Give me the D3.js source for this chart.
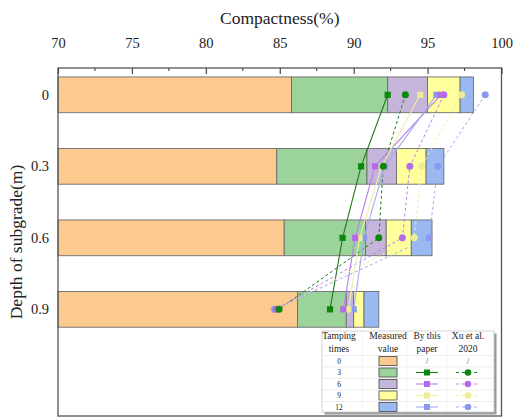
<!DOCTYPE html>
<html><head><meta charset="utf-8">
<script src="https://cdn.jsdelivr.net/npm/d3@7"></script>
<style>body{margin:0;background:#fff}svg{display:block}text{font-family:"Liberation Serif","Times New Roman",serif;fill:#222}</style>
</head><body><svg id="c" width="514" height="417"></svg>
<script>
const depths = [0, 0.3, 0.6, 0.9];
const depthLabels = ["0", "0.3", "0.6", "0.9"];
const tampingTimes = [0, 3, 6, 9, 12];
const xTicks = [70, 75, 80, 85, 90, 95, 100];
// measured compactness (bar segment ends) per tamping times
const measured0 = [85.8, 84.8, 85.3, 86.2];
const measured3 = [92.3, 90.9, 90.8, 89.5];
const measured6 = [95.0, 92.9, 92.2, 90.0];
const measured9 = [97.2, 94.9, 93.9, 90.7];
const measured12 = [98.1, 96.1, 95.3, 91.7];
// By this paper
const paper3 = [92.3, 90.5, 89.25, 88.4];
const paper6 = [95.9, 91.45, 90.1, 89.3];
const paper9 = [94.5, 91.9, 90.4, 89.65];
const paper12 = [95.6, 92.1, 90.7, 90.0];
// Xu et al. 2020
const xu3 = [93.5, 92.0, 91.7, 84.95];
const xu6 = [96.1, 93.8, 93.3, 84.75];
const xu9 = [97.3, 94.6, 94.1, 84.85];
const xu12 = [98.9, 95.7, 95.1, 84.65];

const barColors = ["#FCC98F", "#9BD39B", "#C5B5DA", "#FFFF9C", "#9AB9F2"];
const markColors = [null, "#0B870B", "#B46BE8", "#EDED95", "#8A98EE"];
const lineColors = [null, "#1B7A1B", "#B77DEE", "#EEEEA8", "#A3ACF2"];

const measuredAll = [measured0, measured3, measured6, measured9, measured12];
const paperAll = [null, paper3, paper6, paper9, paper12];
const xuAll = [null, xu3, xu6, xu9, xu12];

const svg = d3.select("#c");
const L = 58, R = 501.5, T = 68, B = 416;
const x = d3.scaleLinear().domain([70, 100]).range([L, R]);
const y = d3.scaleLinear().domain([-0.1125, 1.3475]).range([T, B]);
const bh = y(0.075) - y(-0.075);

// bars
depths.forEach((d, i) => {
  let prev = 70;
  measuredAll.forEach((arr, k) => {
    const v = arr[i];
    svg.append("rect").attr("x", x(prev)).attr("y", y(d) - bh / 2)
      .attr("width", x(v) - x(prev)).attr("height", bh)
      .attr("fill", barColors[k]).attr("stroke", "#6d6d6d").attr("stroke-width", 0.9);
    prev = v;
  });
});

// lines
const line = d3.line().x(d => x(d.v)).y(d => y(d.d));
[1, 2, 3, 4].forEach(k => {
  const pd = depths.map((d, i) => ({ d, v: paperAll[k][i] }));
  const xd = depths.map((d, i) => ({ d, v: xuAll[k][i] }));
  svg.append("path").attr("d", line(xd)).attr("fill", "none")
    .attr("stroke", lineColors[k]).attr("stroke-width", 1).attr("stroke-dasharray", "3,2.5");
  svg.append("path").attr("d", line(pd)).attr("fill", "none")
    .attr("stroke", lineColors[k]).attr("stroke-width", 1.1);
});
// markers
[4, 3, 2, 1].forEach(k => {
  depths.forEach((d, i) => {
    svg.append("circle").attr("cx", x(xuAll[k][i])).attr("cy", y(d)).attr("r", 3.5)
      .attr("fill", markColors[k]);
    svg.append("rect").attr("x", x(paperAll[k][i]) - 3.1).attr("y", y(d) - 3.1)
      .attr("width", 6.2).attr("height", 6.2).attr("fill", markColors[k]);
  });
});

// frame
svg.append("rect").attr("x", L).attr("y", T).attr("width", R - L).attr("height", B - T)
  .attr("fill", "none").attr("stroke", "#555").attr("stroke-width", 1.3);

// top axis
const ax = d3.axisTop(x).tickValues(xTicks).tickSize(-6).tickPadding(20);
const gA = svg.append("g").attr("transform", `translate(0,${T})`).call(ax);
gA.select(".domain").remove();
gA.selectAll("line").attr("stroke", "#444").attr("stroke-width", 1.2);
gA.selectAll("text").style("font-size", "14.5px").style("font-family", "Liberation Serif").attr("fill", "#222");
const minor = d3.range(72.5, 100, 5);
svg.append("g").selectAll("line").data(minor).join("line")
  .attr("x1", d => x(d)).attr("x2", d => x(d)).attr("y1", T).attr("y2", T + 3)
  .attr("stroke", "#444").attr("stroke-width", 1.1);

svg.append("text").attr("x", (L + R) / 2).attr("y", 24).attr("text-anchor", "middle")
  .style("font-size", "17.5px").text("Compactness(%)");

// left labels
depths.forEach((d, i) => {
  svg.append("text").attr("x", 49).attr("y", y(d) + 5).attr("text-anchor", "end")
    .style("font-size", "14.5px").text(depthLabels[i]);
});
svg.append("text").attr("transform", `translate(22,${(T + B) / 2}) rotate(-90)`)
  .attr("text-anchor", "middle").style("font-size", "17.5px").text("Depth of subgrade(m)");

// legend table
const lg = svg.append("g");
const lx0 = 322, ly0 = 331, lx1 = 494, ly1 = 412;
lg.append("rect").attr("x", lx0 + 2.5).attr("y", ly0 + 2.5).attr("width", lx1 - lx0).attr("height", ly1 - ly0).attr("fill", "#9a9a9a");
lg.append("rect").attr("x", lx0).attr("y", ly0).attr("width", lx1 - lx0).attr("height", ly1 - ly0)
  .attr("fill", "#fff").attr("stroke", "#c8c8c8").attr("stroke-width", 0.8);
const colX = [339, 388, 427, 468];
const rowY = [361, 372.5, 384, 395.5, 407];
const heads = [["Tamping", "times"], ["Measured", "value"], ["By this", "paper"], ["Xu et al.", "2020"]];
// grid
[355.5, 367, 378.5, 390, 401.5].forEach(yy => lg.append("line").attr("x1", lx0).attr("x2", lx1).attr("y1", yy).attr("y2", yy).attr("stroke", "#e6e6e6").attr("stroke-width", 0.7));
[362, 407, 447].forEach(xx => lg.append("line").attr("x1", xx).attr("x2", xx).attr("y1", ly0).attr("y2", ly1).attr("stroke", "#ececec").attr("stroke-width", 0.7));
heads.forEach((h, j) => {
  lg.append("text").attr("x", colX[j]).attr("y", 338.5).attr("text-anchor", "middle").style("font-size", "9.5px").text(h[0]);
  lg.append("text").attr("x", colX[j]).attr("y", 352).attr("text-anchor", "middle").style("font-size", "9.5px").text(h[1]);
});
tampingTimes.forEach((t, k) => {
  const yy = rowY[k];
  lg.append("text").attr("x", colX[0]).attr("y", yy + 2.5).attr("text-anchor", "middle").style("font-size", "7.5px").attr("fill", "#333").text(t);
  lg.append("rect").attr("x", colX[1] - 9).attr("y", yy - 4.5).attr("width", 18).attr("height", 9)
    .attr("fill", barColors[k]).attr("stroke", "#555").attr("stroke-width", 0.9);
  if (k === 0) {
    lg.append("text").attr("x", colX[2]).attr("y", yy + 2.5).attr("text-anchor", "middle").style("font-size", "7.5px").attr("fill", "#666").text("/");
    lg.append("text").attr("x", colX[3]).attr("y", yy + 2.5).attr("text-anchor", "middle").style("font-size", "7.5px").attr("fill", "#666").text("/");
  } else {
    lg.append("line").attr("x1", colX[2] - 11).attr("x2", colX[2] + 11).attr("y1", yy).attr("y2", yy).attr("stroke", lineColors[k]).attr("stroke-width", 1.1);
    lg.append("rect").attr("x", colX[2] - 3).attr("y", yy - 3).attr("width", 6).attr("height", 6).attr("fill", markColors[k]);
    lg.append("line").attr("x1", colX[3] - 12).attr("x2", colX[3] + 12).attr("y1", yy).attr("y2", yy).attr("stroke", lineColors[k]).attr("stroke-width", 1.1).attr("stroke-dasharray", "3,3");
    lg.append("circle").attr("cx", colX[3]).attr("cy", yy).attr("r", 3.3).attr("fill", markColors[k]);
  }
});
</script></body></html>
